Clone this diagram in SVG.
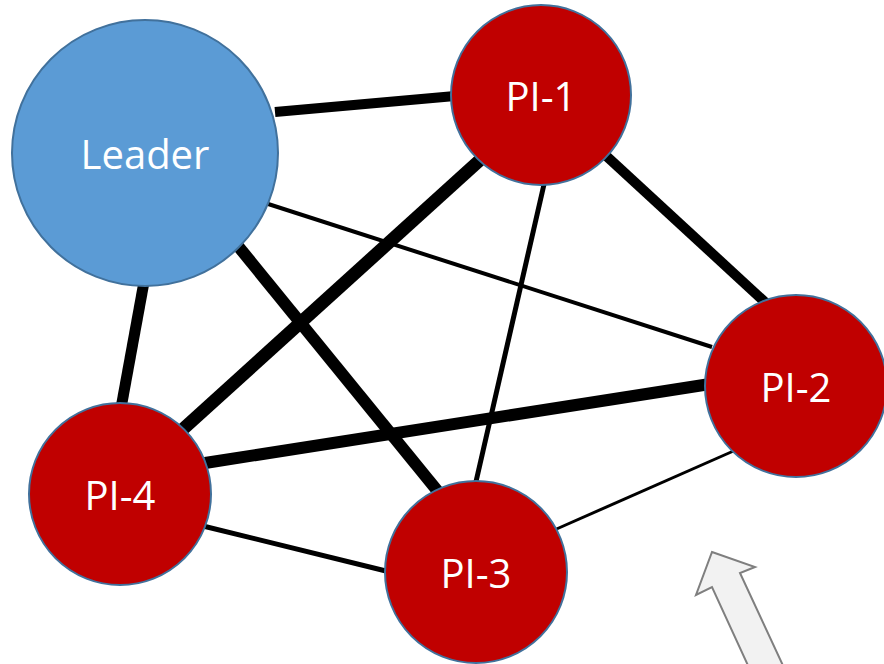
<svg xmlns="http://www.w3.org/2000/svg" width="884" height="664" viewBox="0 0 884 664">
<style>
.edge{stroke:#000;fill:none}
.node{stroke:#41719C;stroke-width:2}
.pi{fill:#C00000}
.leader{fill:#5B9BD5}
.lbl{fill:#fff;font-family:"Open Sans","Liberation Sans",sans-serif;font-size:40px;text-anchor:middle;dominant-baseline:central}
</style>
<rect width="884" height="664" fill="#fff"/>
<g id="connectors">
<line class="edge" x1="275" y1="112" x2="455" y2="96" stroke-width="10"/>
<line class="edge" x1="262" y1="202" x2="712" y2="347" stroke-width="4"/>
<line class="edge" x1="238" y1="246" x2="440" y2="494" stroke-width="12"/>
<line class="edge" x1="144" y1="282" x2="121" y2="408" stroke-width="11"/>
<line class="edge" x1="480" y1="160" x2="182" y2="430" stroke-width="13"/>
<line class="edge" x1="545" y1="180" x2="475" y2="486" stroke-width="5"/>
<line class="edge" x1="602" y1="152" x2="767" y2="304" stroke-width="10"/>
<line class="edge" x1="205" y1="463" x2="710" y2="384" stroke-width="12"/>
<line class="edge" x1="552" y1="531" x2="738" y2="449" stroke-width="3"/>
<line class="edge" x1="203" y1="526" x2="390" y2="572" stroke-width="5"/>
</g>
<g id="leader">
<circle class="node leader" cx="145" cy="153" r="133"/>
<text class="lbl" x="145" y="153">Leader</text>
</g>
<g id="pi-1">
<circle class="node pi" cx="541" cy="95" r="90"/>
<text class="lbl" x="541" y="95">PI-1</text>
</g>
<g id="pi-2">
<circle class="node pi" cx="796" cy="386" r="91"/>
<text class="lbl" x="796" y="386">PI-2</text>
</g>
<g id="pi-4">
<circle class="node pi" cx="120" cy="494" r="91"/>
<text class="lbl" x="120" y="494">PI-4</text>
</g>
<g id="pi-3">
<circle class="node pi" cx="476" cy="572" r="91"/>
<text class="lbl" x="476" y="572">PI-3</text>
</g>
<g id="arrow">
<polygon points="712,552 755,567 740,573 786,672 751,672 712,587 696,595" fill="#F2F2F2" stroke="#7F7F7F" stroke-width="2" stroke-linejoin="miter"/>
</g>
</svg>
